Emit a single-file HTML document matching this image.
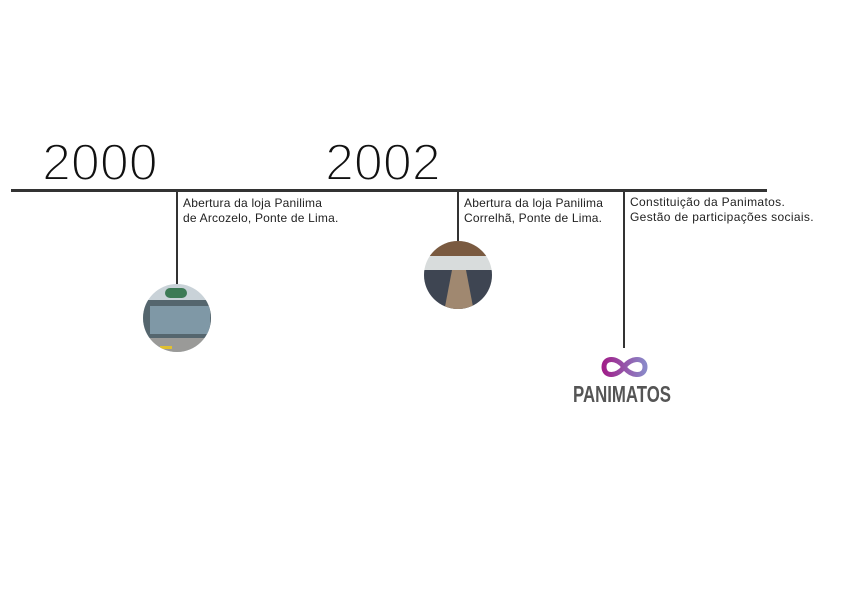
<!DOCTYPE html>
<html><head><meta charset="utf-8"><style>
html,body{margin:0;padding:0;background:#fff;}
body{width:842px;height:596px;position:relative;overflow:hidden;font-family:"Liberation Sans",sans-serif;}
.yr{position:absolute;top:133px;font-size:52px;color:#111;line-height:60px;letter-spacing:0px;-webkit-text-stroke:2px #fff;paint-order:normal;}
.t{position:absolute;font-size:12px;line-height:15px;color:#222;white-space:nowrap;letter-spacing:0.2px;}
.l{position:absolute;background:#333;}
</style></head><body>
<div class="yr" style="left:42px">2000</div>
<div class="yr" style="left:325px">2002</div>
<div class="l" style="left:11px;top:189px;width:756px;height:3px"></div>
<div class="l" style="left:176px;top:190px;width:2px;height:96px"></div>
<div class="l" style="left:457px;top:190px;width:2px;height:52px"></div>
<div class="l" style="left:623px;top:190px;width:2px;height:158px"></div>
<div class="t" style="left:183px;top:196px">Abertura da loja Panilima<br>de Arcozelo, Ponte de Lima.</div>
<div class="t" style="left:464px;top:196px">Abertura da loja Panilima<br>Correlhã, Ponte de Lima.</div>
<div class="t" style="left:630px;top:195px;letter-spacing:0.35px">Constituição da Panimatos.<br>Gestão de participações sociais.</div>
<svg style="position:absolute;left:0;top:0" width="842" height="596">
<defs>
<clipPath id="c1"><circle cx="177" cy="318" r="34"/></clipPath>
<clipPath id="c2"><circle cx="458" cy="275" r="34"/></clipPath>
<linearGradient id="g" x1="0" x2="1"><stop offset="0" stop-color="#a0208a"/><stop offset="1" stop-color="#8a88c8"/></linearGradient>
</defs>
<g clip-path="url(#c1)">
<rect x="140" y="282" width="76" height="72" fill="#c9d2d8"/>
<rect x="140" y="300" width="76" height="38" fill="#55666e"/>
<rect x="150" y="306" width="60" height="28" fill="#7f98a6"/>
<rect x="165" y="288" width="22" height="10" rx="5" fill="#3c7a55"/>
<rect x="140" y="338" width="76" height="16" fill="#9a9a98"/>
<rect x="160" y="346" width="12" height="3" fill="#e0c030"/>
</g>
<g clip-path="url(#c2)">
<rect x="422" y="240" width="72" height="72" fill="#d8dcdc"/>
<rect x="422" y="240" width="72" height="16" fill="#7a5a40"/>
<rect x="422" y="270" width="72" height="42" fill="#3e4552"/>
<polygon points="452,270 466,270 474,312 444,312" fill="#a08870"/>
</g>
<path d="M624,367 C617,357 604,357 604,367 C604,377 617,377 624,367 C631,357 645,357 645,367 C645,377 631,377 624,367Z" fill="none" stroke="url(#g)" stroke-width="5"/>
<text x="573" y="402" font-family="Liberation Sans" font-weight="bold" font-size="23" fill="#555" textLength="98" lengthAdjust="spacingAndGlyphs">PANIMATOS</text>
</svg>
</body></html>
